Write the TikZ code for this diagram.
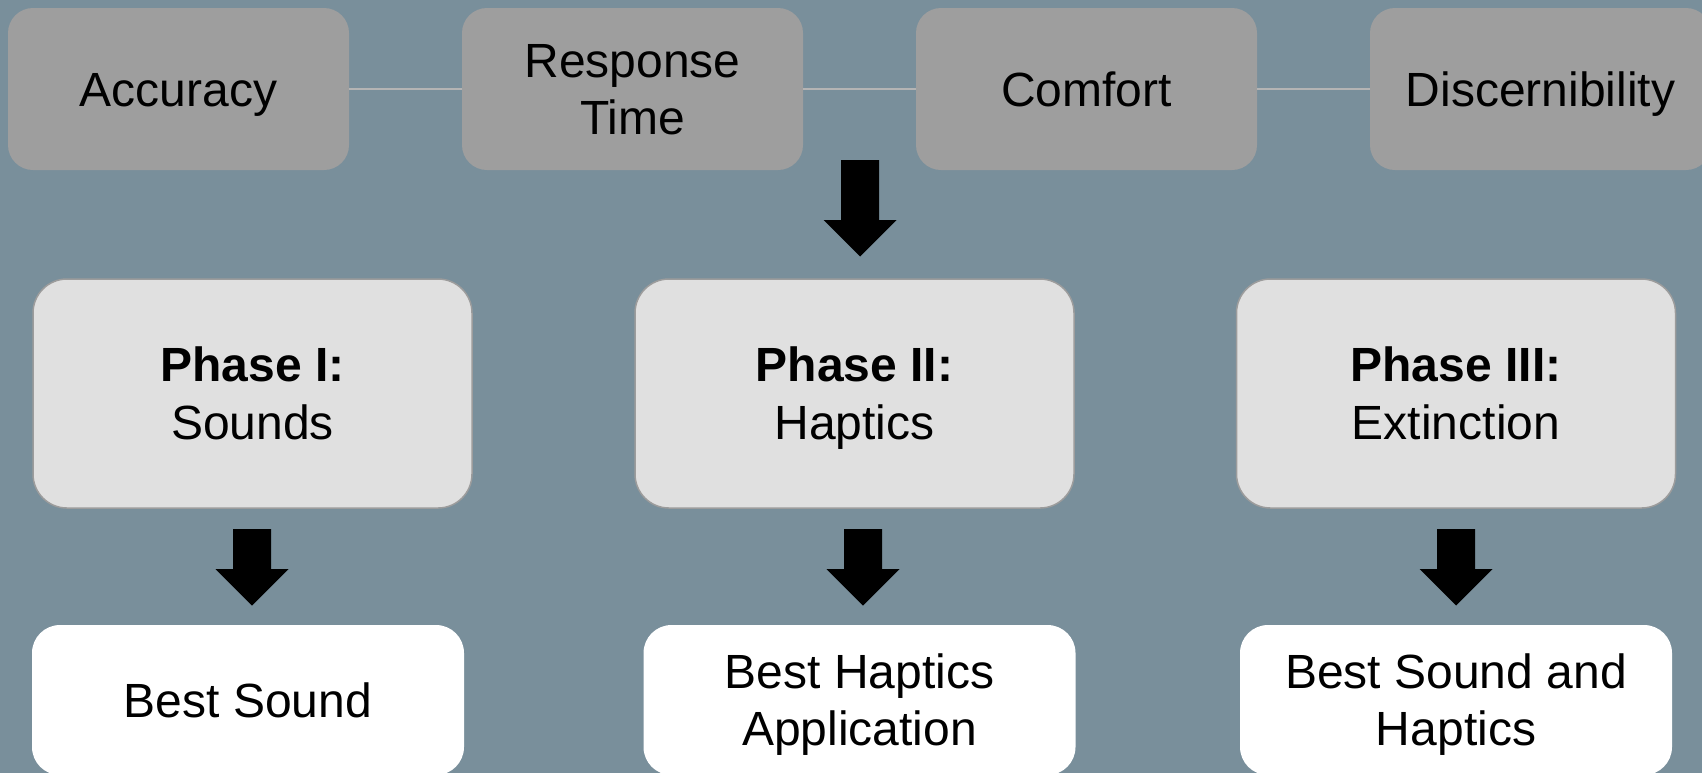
\documentclass[tikz,border=0pt]{standalone}
\usepackage{fontspec}
\setmainfont{Liberation Sans}
\definecolor{bgc}{HTML}{798F9B}
\definecolor{topc}{HTML}{9E9E9E}
\definecolor{phasec}{HTML}{E0E0E0}
\definecolor{phaseb}{HTML}{9C9C9C}
\definecolor{linkc}{HTML}{B4B4B4}
\tikzset{
  lbl/.style={font=\fontsize{24}{28.75}\selectfont, align=center, inner sep=0pt, text=black},
  oneline/.style={text height=17.2pt, text depth=0pt},
  twoline/.style={text height=45.95pt, text depth=0pt},
  topbox/.style={lbl, fill=topc, rounded corners=12.5pt, minimum width=170.5pt, minimum height=81pt},
  phasebox/.style={lbl, fill=phasec, draw=phaseb, line width=0.75pt, rounded corners=17pt, minimum width=219.5pt, minimum height=114.5pt},
  resbox/.style={lbl, fill=white, rounded corners=14pt, minimum width=216pt, minimum height=75pt},
  link/.style={draw=linkc, line width=0.6pt},
  pics/fatarrow/.style={code={
    \fill[black] (-19,0) -- (19,0) -- (19,#1) -- (36.5,#1) -- (0,{#1+36.5}) -- (-36.5,#1) -- (-19,#1) -- cycle;}}
}
\begin{document}
\begin{tikzpicture}[x=0.5pt, y=-0.5pt]
\useasboundingbox (0,0) rectangle (1702,773);
\fill[bgc] (0,0) rectangle (1702,773);
% top row
\node[topbox, oneline] (acc) at (178.5,89) {Accuracy};
\node[topbox, twoline] (rt) at (632.5,89) {Response\\Time};
\node[topbox, oneline] (com) at (1086.5,89) {Comfort};
\node[topbox, oneline] (dis) at (1540.5,89) {Discernibility};
\draw[link] (acc.east) -- (rt.west);
\draw[link] (rt.east) -- (com.west);
\draw[link] (com.east) -- (dis.west);
% phases
\node[phasebox, twoline] (p1) at (252.5,393.5) {\textbf{Phase I:}\\Sounds};
\node[phasebox, twoline] (p2) at (854.5,393.5) {\textbf{Phase II:}\\Haptics};
\node[phasebox, twoline] (p3) at (1456,393.5) {\textbf{Phase III:}\\Extinction};
% results
\node[resbox, oneline] (r1) at (248,700) {Best Sound};
\node[resbox, twoline] (r2) at (859.5,700) {Best Haptics\\Application};
\node[resbox, twoline] (r3) at (1456,700) {Best Sound and\\Haptics};
% arrows
\coordinate (a0) at (860,160);
\coordinate (a1) at (252,529);
\coordinate (a2) at (863,529);
\coordinate (a3) at (1456,529);
\pic at (a0) {fatarrow=60};
\pic at (a1) {fatarrow=40};
\pic at (a2) {fatarrow=40};
\pic at (a3) {fatarrow=40};
\end{tikzpicture}
\end{document}
